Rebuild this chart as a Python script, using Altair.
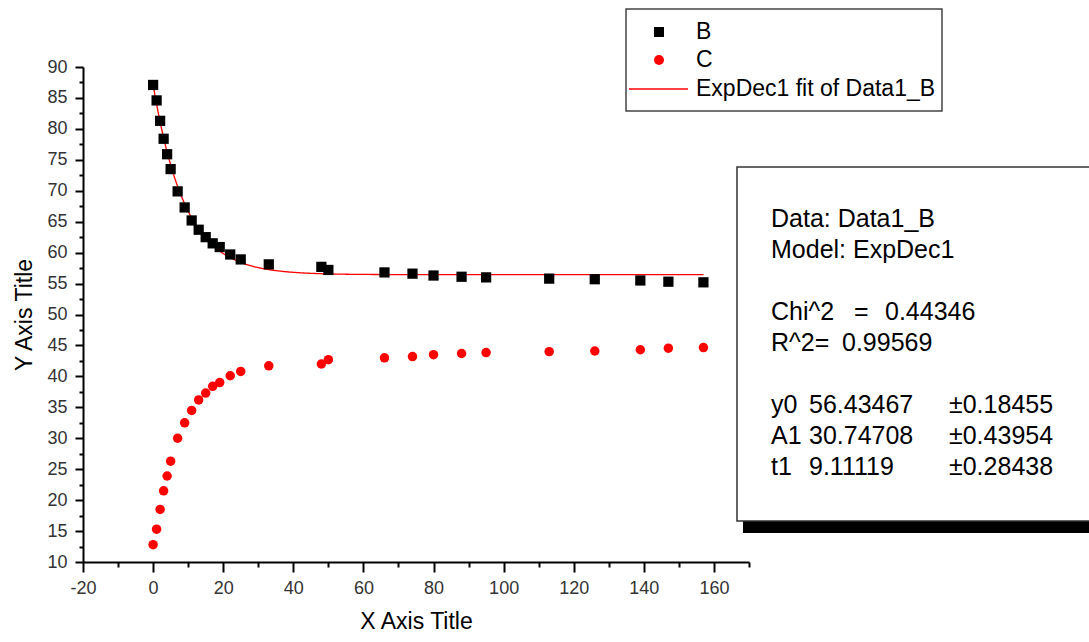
import altair as alt
import pandas as pd

FONT = "Liberation Sans"

# ---- measured series -------------------------------------------------------
x_vals = [0, 1, 2, 3, 4, 5, 7, 9, 11, 13, 15, 17, 19, 22, 25, 33,
          48, 50, 66, 74, 80, 88, 95, 113, 126, 139, 147, 157]
b_vals = [87.1, 84.6, 81.3, 78.4, 75.9, 73.5, 69.9, 67.3, 65.2, 63.7, 62.5,
          61.5, 60.9, 59.7, 58.9, 58.1, 57.7, 57.2, 56.8, 56.6, 56.3, 56.1,
          56.0, 55.8, 55.7, 55.5, 55.3, 55.2]
c_vals = [12.8, 15.3, 18.5, 21.5, 23.9, 26.3, 30.0, 32.5, 34.5, 36.2, 37.3,
          38.4, 39.0, 40.1, 40.8, 41.7, 42.0, 42.7, 43.0, 43.2, 43.5, 43.7,
          43.85, 44.0, 44.1, 44.3, 44.55, 44.65]

# ---- ExpDec1 fit report ----------------------------------------------------
fit_y0 = 56.43467
fit_A1 = 30.74708
fit_t1 = 9.11119
fit_header = ["Data: Data1_B", "Model: ExpDec1"]
chi_label, chi_value = "Chi^2", "0.44346"
r2_label, r2_value = "R^2=", "0.99569"
param_names = ["y0", "A1", "t1"]
param_values = ["56.43467", "30.74708", "9.11119"]
param_errors = ["\u00b10.18455", "\u00b10.43954", "\u00b10.28438"]

legend_labels = ["B", "C", "ExpDec1 fit of Data1_B"]

# ---- axis tick positions ---------------------------------------------------
x_ticks = list(range(-20, 171, 10))
y_ticks = [10 + 2.5 * i for i in range(33)]

df = pd.DataFrame({"x": x_vals, "B": b_vals, "C": c_vals})

x_scale = alt.Scale(domain=[-20, 170], nice=False, zero=False)
y_scale = alt.Scale(domain=[10, 90], nice=False, zero=False)

x_axis = alt.Axis(
    values=x_ticks,
    labelExpr="datum.value % 20 === 0 ? '' + datum.value : ''",
    tickSize={"condition": {"test": "datum.value % 20 === 0", "value": 10}, "value": 5},
    labelPadding=7,
    labelFlush=False,
    labelOverlap=False,
    titlePadding=13,
)
y_axis = alt.Axis(
    values=y_ticks,
    labelExpr="datum.value % 5 === 0 ? '' + datum.value : ''",
    tickSize={"condition": {"test": "datum.value % 5 === 0", "value": 8}, "value": 4},
    labelPadding=8,
    labelOverlap=False,
    titlePadding=10,
)


def xenc(field):
    return alt.X(field, type="quantitative", scale=x_scale, axis=x_axis,
                 title="X Axis Title")


def yenc(field):
    return alt.Y(field, type="quantitative", scale=y_scale, axis=y_axis,
                 title="Y Axis Title")


base = alt.Chart(df)

pts_b = base.mark_square(size=105, color="black", opacity=1).encode(
    x=xenc("x"), y=yenc("B")
)
pts_c = base.mark_circle(size=90, color="#ff0000", opacity=1).encode(
    x=xenc("x"), y=yenc("C")
)

# fitted curve y = y0 + A1*exp(-x/t1) over the measured x range
fit_line = (
    alt.Chart(alt.sequence(0, 157.25, 0.25, as_="x"))
    .transform_calculate(fit=f"{fit_y0} + {fit_A1} * exp(-datum.x / {fit_t1})")
    .mark_line(color="#ff0000", strokeWidth=1.3)
    .encode(x=xenc("x"), y=yenc("fit"))
)

one = alt.Data(values=[{}])


def label(text, px, py, size):
    """Free-standing text placed in plot-area pixels."""
    return alt.Chart(one).mark_text(
        align="left", baseline="middle", font=FONT, fontSize=size, color="black"
    ).encode(x=alt.value(px), y=alt.value(py), text=alt.value(text))


# ---- legend panel (pixel placement relative to the plot area) --------------
leg_box = alt.Chart(one).mark_rect(fill="white", stroke="#444", strokeWidth=1.5).encode(
    x=alt.value(543), x2=alt.value(859), y=alt.value(-58), y2=alt.value(44)
)
leg_sq = alt.Chart(one).mark_square(size=100, color="black", opacity=1).encode(
    x=alt.value(576), y=alt.value(-35)
)
leg_ci = alt.Chart(one).mark_circle(size=100, color="#ff0000", opacity=1).encode(
    x=alt.value(576), y=alt.value(-7)
)
leg_ln = alt.Chart(one).mark_rule(color="#ff0000", strokeWidth=1.3).encode(
    x=alt.value(546), x2=alt.value(605), y=alt.value(22)
)
leg_rows = [-35, -7, 22]
legend_layers = [label(t, 613, py, 23) for t, py in zip(legend_labels, leg_rows)]

# ---- fit report panel -----------------------------------------------------
shadow = alt.Chart(one).mark_rect(fill="black").encode(
    x=alt.value(660), x2=alt.value(1030), y=alt.value(110), y2=alt.value(466)
)
panel = alt.Chart(one).mark_rect(fill="white", stroke="#333", strokeWidth=1.5).encode(
    x=alt.value(654), x2=alt.value(1030), y=alt.value(100), y2=alt.value(454)
)

FS = 25
row_top, row_step = 152, 31
col_label, col_value, col_error = 688, 726, 866
panel_layers = []
for i, t in enumerate(fit_header):
    panel_layers.append(label(t, col_label, row_top + row_step * i, FS))
py = row_top + row_step * 3
panel_layers += [label(chi_label, col_label, py, FS), label("=", 771, py, FS),
                 label(chi_value, 802, py, FS)]
py = row_top + row_step * 4
panel_layers += [label(r2_label, col_label, py, FS), label(r2_value, 759, py, FS)]
for i in range(len(param_names)):
    py = row_top + row_step * (6 + i)
    panel_layers += [label(param_names[i], col_label, py, FS),
                     label(param_values[i], col_value, py, FS),
                     label(param_errors[i], col_error, py, FS)]

chart = (
    alt.layer(fit_line, pts_b, pts_c, leg_box, leg_sq, leg_ci, leg_ln,
              *legend_layers, shadow, panel, *panel_layers)
    .properties(
        width=666,
        height=495,
        padding={"left": 83, "top": 67, "right": 340, "bottom": 80},
        autosize=alt.AutoSizeParams(type="none"),
        background="white",
    )
    .configure_view(stroke=None)
    .configure_axis(
        grid=False,
        domainColor="black",
        domainWidth=2,
        tickColor="black",
        tickWidth=2,
        labelFont=FONT,
        labelFontSize=18,
        labelColor="#333",
        titleFont=FONT,
        titleFontSize=23,
        titleFontWeight="normal",
        titleColor="black",
    )
)

chart.save("out.html", embed_options={"renderer": "svg", "actions": False})
